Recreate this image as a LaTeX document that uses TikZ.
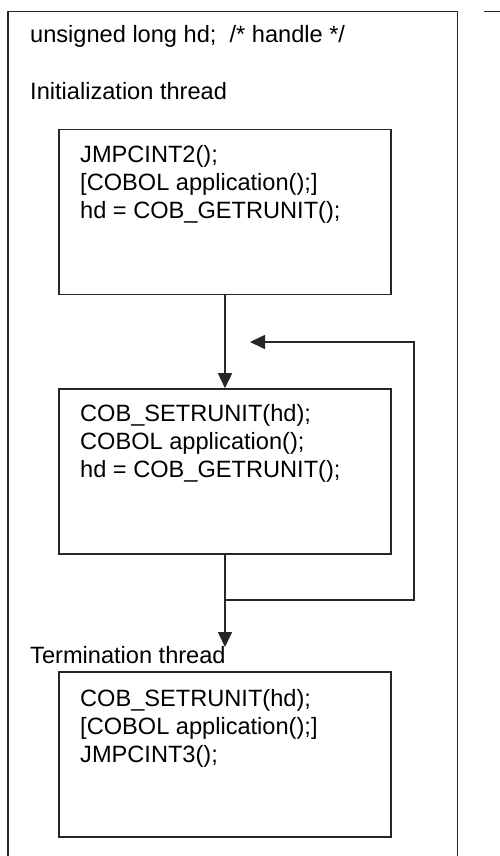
\documentclass[tikz,border=0pt]{standalone}
\usepackage{fontspec}
\setmainfont{Liberation Sans}
\usetikzlibrary{arrows.meta}
\begin{document}
\begin{tikzpicture}[x=1pt,y=-1pt,
  line/.style={draw=black!85,line width=1.6pt},
  box/.style={line,rectangle,minimum width=332pt,minimum height=165pt,inner sep=0pt},
  txt/.style={anchor=base west,inner sep=0pt,align=left,font=\fontsize{23.6}{28}\selectfont},
  arr/.style={line,-{Triangle[length=15pt,width=14pt]}}]
\useasboundingbox (0,0) rectangle (500,856);
\clip (0,0) rectangle (500,856);
% outer frame
\draw[line] (8,11.5) rectangle (457.5,900);
\coordinate (f1) at (484,11.5);
\coordinate (f2) at (501,11.5);
\draw[line] (f1) -- (f2);
% texts
\node[txt] (decl) at (30,43) {unsigned long hd;\ \ /* handle */};
\node[txt] (init) at (30,100) {Initialization thread};
\node[txt] (term) at (30,663) {Termination thread};
% boxes
\node[box] (b1) at (225,212) {};
\node[box] (b2) at (225,471.5) {};
\node[box] (b3) at (225,754.5) {};
\node[txt] (t1) at (80,218.5) {JMPCINT2();\\{[}COBOL application();]\\hd = COB\_GETRUNIT();};
\node[txt] (t2) at (80,477.5) {COB\_SETRUNIT(hd);\\COBOL application();\\hd = COB\_GETRUNIT();};
\node[txt] (t3) at (80,762) {COB\_SETRUNIT(hd);\\{[}COBOL application();]\\JMPCINT3();};
% connectors
\coordinate (j) at (225,600);
\coordinate (r) at (414,342);
\coordinate (le) at (250,342);
\coordinate (jt) at (225,647);
\draw[arr] (b1.south) -- (b2.north);
\draw[line] (b2.south) -- (j);
\draw[arr] (j) -- (jt);
\draw[arr] (j) -| (r) -- (le);
\end{tikzpicture}
\end{document}
